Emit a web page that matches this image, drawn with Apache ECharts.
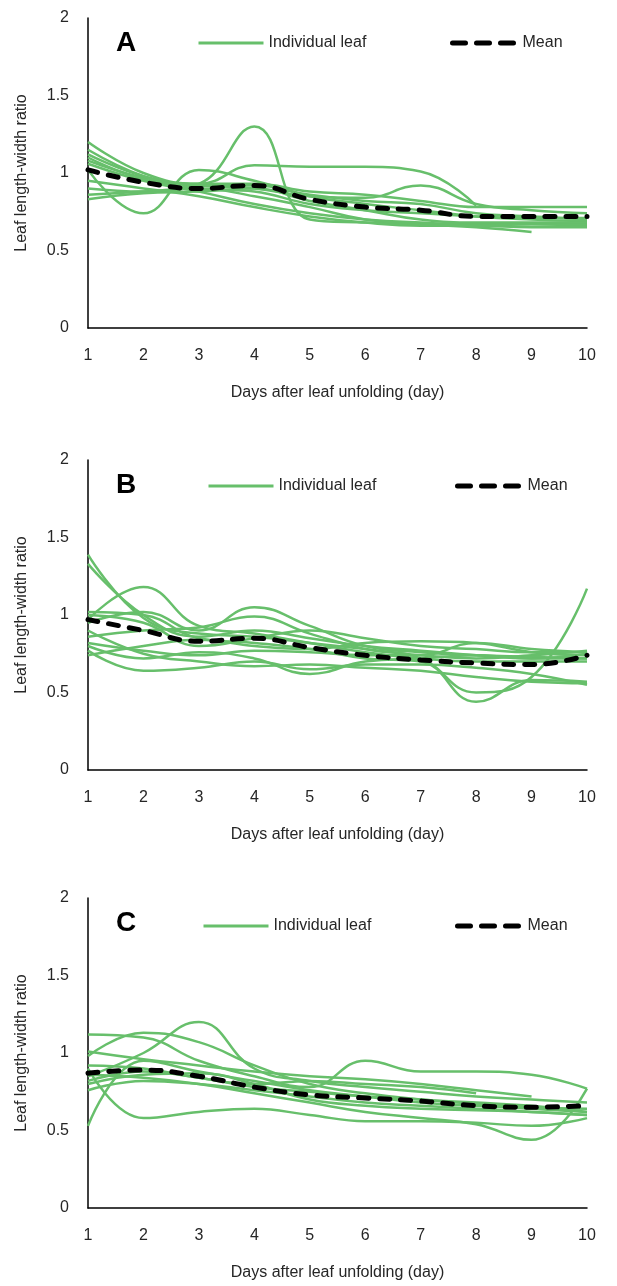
<!DOCTYPE html>
<html><head><meta charset="utf-8">
<script src="https://cdn.jsdelivr.net/npm/echarts@6/dist/echarts.min.js"></script>
<style>html,body{margin:0;padding:0;background:#fff}#c{width:617px;height:1286px}</style>
</head><body><div id="c"></div>
<script>
const days = ['1','2','3','4','5','6','7','8','9','10'];
const yTicks = ['0','0.5','1','1.5','2'];
const panelLetters = ['A','B','C'];

const leavesA = [
  [0.90,0.88,0.93,1.30,0.70,0.68,0.67,0.66,0.67,0.66],
  [1.02,0.74,1.02,0.95,0.85,0.80,0.76,0.72,0.70,0.69],
  [1.12,0.98,0.93,1.05,1.04,1.04,1.01,0.79],
  [1.08,0.97,0.92,0.90,0.85,0.84,0.92,0.80,0.76,0.74],
  [0.86,0.88,0.90,0.85,0.78,0.70,0.67,0.65,0.62],
  [1.20,1.00,0.93,0.93,0.88,0.86,0.82,0.78,0.78,0.78],
  [1.15,0.98,0.90,0.88,0.80,0.76,0.74,0.72,0.71,0.71],
  [1.06,0.95,0.88,0.80,0.74,0.70,0.68,0.67,0.67,0.67],
  [0.95,0.90,0.85,0.78,0.72,0.68,0.66,0.66,0.65,0.65],
  [0.83,0.87,0.88,0.90,0.82,0.76,0.70,0.68,0.68,0.68],
  [1.10,0.96,0.92,0.92,0.86,0.82,0.80,0.74,0.72,0.70]
];
const meanA = [1.02,0.94,0.90,0.92,0.83,0.78,0.76,0.72,0.72,0.72];

const leavesB = [
  [1.39,0.98,0.88,0.86,0.82,0.78,0.74,0.72,0.74,0.77],
  [1.33,1.00,0.86,0.90,0.85,0.80,0.77,0.74,0.72,0.75],
  [0.97,1.18,0.93,0.88,0.82,0.76,0.72,0.70,0.70,0.70],
  [0.95,1.02,0.90,1.05,0.93,0.80,0.76,0.74,0.73,0.72],
  [0.86,0.90,0.92,0.99,0.88,0.78,0.72,0.50,0.60,1.17],
  [1.02,1.00,0.85,0.82,0.78,0.72,0.70,0.44,0.58,0.57],
  [0.74,0.80,0.84,0.80,0.78,0.82,0.83,0.82,0.76,0.74],
  [0.82,0.77,0.74,0.77,0.76,0.74,0.74,0.82,0.78,0.76],
  [0.77,0.64,0.66,0.70,0.65,0.68,0.68,0.66,0.62,0.55],
  [0.90,0.75,0.70,0.67,0.68,0.66,0.64,0.60,0.57,0.56],
  [1.00,0.95,0.80,0.85,0.90,0.85,0.80,0.78,0.76,0.76],
  [0.80,0.72,0.76,0.72,0.62,0.70,0.72,0.74,0.72,0.72]
];
const meanB = [0.97,0.90,0.83,0.85,0.79,0.74,0.71,0.69,0.68,0.74];

const leavesC = [
  [0.85,1.00,1.20,0.90,0.82,0.78,0.75,0.72,0.70,0.68],
  [0.98,1.13,1.07,0.92,0.80,0.74,0.70,0.68,0.66,0.62],
  [1.12,1.10,0.95,0.85,0.78,0.95,0.88,0.88,0.86,0.77],
  [1.01,0.96,0.92,0.88,0.85,0.83,0.80,0.76,0.72],
  [0.53,0.95,0.88,0.82,0.76,0.72,0.68,0.66,0.64,0.62],
  [0.90,0.58,0.62,0.64,0.60,0.56,0.56,0.55,0.53,0.58],
  [0.86,0.84,0.80,0.74,0.68,0.62,0.58,0.54,0.44,0.77],
  [0.82,0.88,0.84,0.78,0.75,0.72,0.70,0.67,0.65,0.64],
  [0.76,0.82,0.80,0.76,0.72,0.68,0.66,0.64,0.62,0.60],
  [0.92,0.90,0.84,0.80,0.82,0.80,0.78,0.74],
  [0.80,0.86,0.87,0.80,0.70,0.66,0.64,0.63,0.62,0.60]
];
const meanC = [0.87,0.89,0.85,0.78,0.73,0.71,0.69,0.66,0.65,0.66];

const panels = [
  {leaves: leavesA, mean: meanA, top: 18, legTop: 30, legLeaf: 192, legMean: 445},
  {leaves: leavesB, mean: meanB, top: 460, legTop: 473, legLeaf: 202, legMean: 450},
  {leaves: leavesC, mean: meanC, top: 898, legTop: 913, legLeaf: 197, legMean: 450}
];

const GREEN = '#67bf6b';
const FONT = '"Liberation Sans", Arial, sans-serif';
const TXT = '#262626';
const grids = [], xAxes = [], yAxes = [], series = [], legends = [], graphics = [];

panels.forEach((p, i) => {
  grids.push({left: 88, right: 30, top: p.top, height: 310, containLabel: false});
  xAxes.push({
    type: 'category', gridIndex: i, data: days, boundaryGap: false,
    axisLine: {lineStyle: {color: '#000', width: 1.5}},
    axisTick: {show: false},
    axisLabel: {color: TXT, fontSize: 16, fontFamily: FONT, margin: 20},
    name: 'Days after leaf unfolding (day)', nameLocation: 'middle', nameGap: 57,
    nameTextStyle: {color: TXT, fontSize: 16, fontFamily: FONT}
  });
  yAxes.push({
    type: 'value', gridIndex: i, min: 0, max: 2, interval: 0.5,
    axisLine: {show: true, lineStyle: {color: '#000', width: 1.5}},
    axisTick: {show: false}, splitLine: {show: false},
    axisLabel: {color: TXT, fontSize: 16, fontFamily: FONT, margin: 19,
      formatter: v => yTicks[Math.round(v / 0.5)]},
    name: 'Leaf length-width ratio', nameLocation: 'middle', nameGap: 58,
    nameTextStyle: {color: TXT, fontSize: 16, fontFamily: FONT}
  });
  p.leaves.forEach(arr => {
    series.push({
      type: 'line', name: 'Individual leaf', xAxisIndex: i, yAxisIndex: i,
      data: arr, smooth: 0.45, symbol: 'none', silent: true,
      lineStyle: {color: GREEN, width: 2.5}, itemStyle: {color: GREEN}, z: 2
    });
  });
  series.push({
    type: 'line', name: 'Mean', xAxisIndex: i, yAxisIndex: i,
    data: p.mean, smooth: 0.45, symbol: 'none', silent: true,
    lineStyle: {color: '#000', width: 5, type: [10, 11], cap: 'round'}, itemStyle: {color: '#000'}, z: 5
  });
  legends.push({
    left: p.legLeaf, top: p.legTop, itemWidth: 65, itemHeight: 16,
    selectedMode: false, data: ['Individual leaf'],
    itemStyle: {opacity: 0},
    lineStyle: {color: GREEN, width: 3},
    textStyle: {color: TXT, fontSize: 16, fontFamily: FONT}
  });
  legends.push({
    left: p.legMean, top: p.legTop, itemWidth: 65, itemHeight: 16,
    selectedMode: false, data: ['Mean'],
    itemStyle: {opacity: 0},
    lineStyle: {color: '#000', width: 5, type: [13, 11], cap: 'round'},
    textStyle: {color: TXT, fontSize: 16, fontFamily: FONT}
  });
  graphics.push({
    type: 'text', left: 116, top: p.top + 11,
    style: {text: panelLetters[i], font: 'bold 28px ' + FONT, fill: '#000'}
  });
});

const chart = echarts.init(document.getElementById('c'), null, {renderer: 'canvas'});
chart.setOption({
  animation: false,
  backgroundColor: '#fff',
  grid: grids, xAxis: xAxes, yAxis: yAxes, series: series,
  legend: legends,
  graphic: graphics
});
</script>
</body></html>
